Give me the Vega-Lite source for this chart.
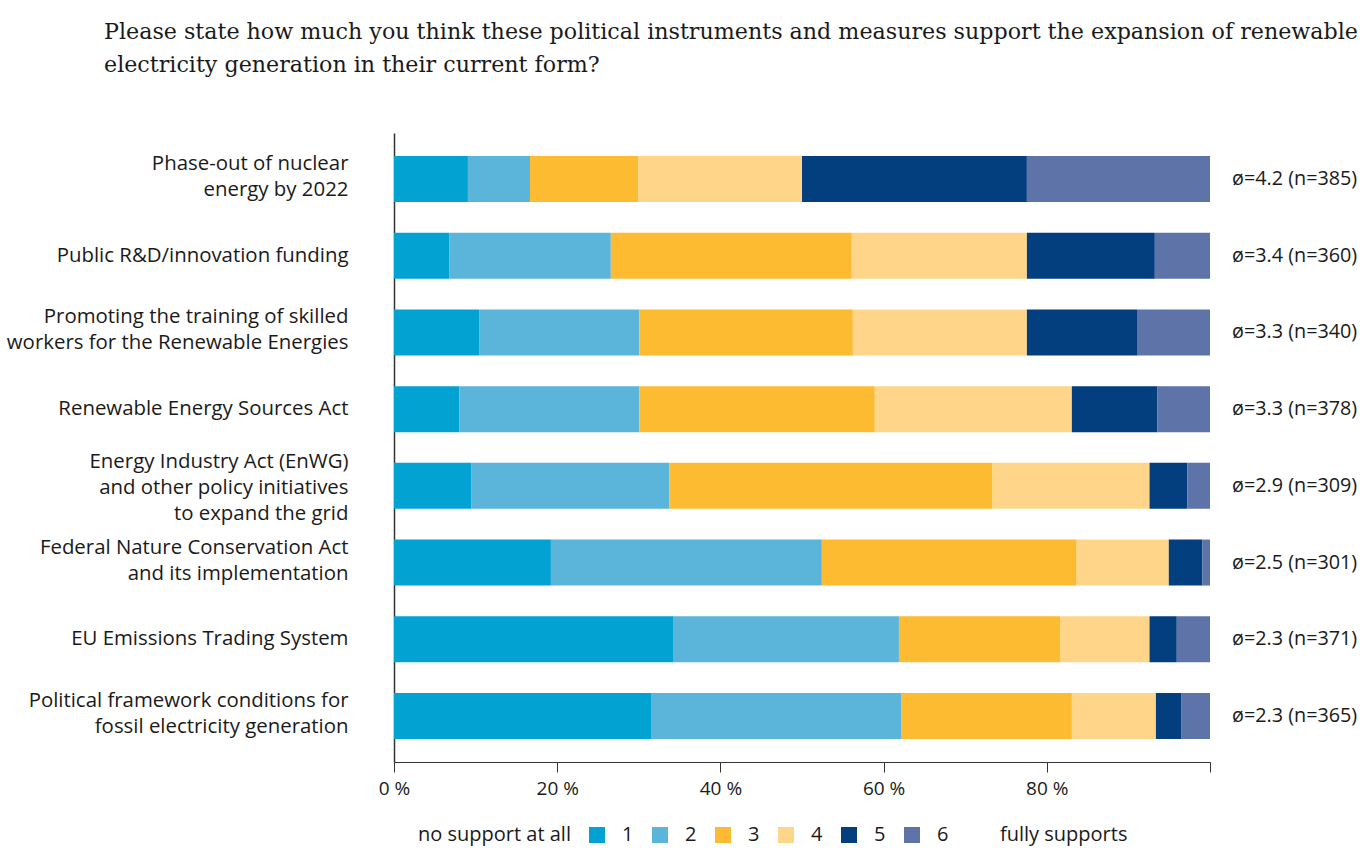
{
  "$schema": "https://vega.github.io/schema/vega-lite/v6.json",
  "width": 816,
  "height": 629,
  "autosize": "none",
  "padding": {"left": 394, "top": 133, "right": 150, "bottom": 86},
  "background": "white",
  "config": {
    "view": {"stroke": null},
    "font": "Open Sans",
    "text": {"font": "Open Sans"}
  },
  "title": {
    "text": ["Please state how much you think these political instruments and measures support the expansion of renewable", "electricity generation in their current form?"],
    "anchor": "start",
    "frame": "group",
    "dx": -290,
    "offset": 57,
    "font": "DejaVu Serif",
    "fontSize": 22.2,
    "fontWeight": "normal",
    "lineHeight": 33,
    "color": "#1a1a1a"
  },
  "datasets": {
    "bars": [
      {"item": "Phase-out of nuclear|energy by 2022", "rating": "1", "pct": 9.06},
      {"item": "Phase-out of nuclear|energy by 2022", "rating": "2", "pct": 7.61},
      {"item": "Phase-out of nuclear|energy by 2022", "rating": "3", "pct": 13.25},
      {"item": "Phase-out of nuclear|energy by 2022", "rating": "4", "pct": 20.08},
      {"item": "Phase-out of nuclear|energy by 2022", "rating": "5", "pct": 27.56},
      {"item": "Phase-out of nuclear|energy by 2022", "rating": "6", "pct": 22.44},
      {"item": "Public R&D/innovation funding", "rating": "1", "pct": 6.76},
      {"item": "Public R&D/innovation funding", "rating": "2", "pct": 19.81},
      {"item": "Public R&D/innovation funding", "rating": "3", "pct": 29.53},
      {"item": "Public R&D/innovation funding", "rating": "4", "pct": 21.46},
      {"item": "Public R&D/innovation funding", "rating": "5", "pct": 15.68},
      {"item": "Public R&D/innovation funding", "rating": "6", "pct": 6.76},
      {"item": "Promoting the training of skilled|workers for the Renewable Energies", "rating": "1", "pct": 10.43},
      {"item": "Promoting the training of skilled|workers for the Renewable Energies", "rating": "2", "pct": 19.62},
      {"item": "Promoting the training of skilled|workers for the Renewable Energies", "rating": "3", "pct": 26.18},
      {"item": "Promoting the training of skilled|workers for the Renewable Energies", "rating": "4", "pct": 21.33},
      {"item": "Promoting the training of skilled|workers for the Renewable Energies", "rating": "5", "pct": 13.58},
      {"item": "Promoting the training of skilled|workers for the Renewable Energies", "rating": "6", "pct": 8.86},
      {"item": "Renewable Energy Sources Act", "rating": "1", "pct": 8.0},
      {"item": "Renewable Energy Sources Act", "rating": "2", "pct": 22.05},
      {"item": "Renewable Energy Sources Act", "rating": "3", "pct": 28.87},
      {"item": "Renewable Energy Sources Act", "rating": "4", "pct": 24.15},
      {"item": "Renewable Energy Sources Act", "rating": "5", "pct": 10.5},
      {"item": "Renewable Energy Sources Act", "rating": "6", "pct": 6.43},
      {"item": "Energy Industry Act (EnWG)|and other policy initiatives|to expand the grid", "rating": "1", "pct": 9.45},
      {"item": "Energy Industry Act (EnWG)|and other policy initiatives|to expand the grid", "rating": "2", "pct": 24.28},
      {"item": "Energy Industry Act (EnWG)|and other policy initiatives|to expand the grid", "rating": "3", "pct": 39.63},
      {"item": "Energy Industry Act (EnWG)|and other policy initiatives|to expand the grid", "rating": "4", "pct": 19.23},
      {"item": "Energy Industry Act (EnWG)|and other policy initiatives|to expand the grid", "rating": "5", "pct": 4.65},
      {"item": "Energy Industry Act (EnWG)|and other policy initiatives|to expand the grid", "rating": "6", "pct": 2.76},
      {"item": "Federal Nature Conservation Act|and its implementation", "rating": "1", "pct": 19.23},
      {"item": "Federal Nature Conservation Act|and its implementation", "rating": "2", "pct": 33.2},
      {"item": "Federal Nature Conservation Act|and its implementation", "rating": "3", "pct": 31.23},
      {"item": "Federal Nature Conservation Act|and its implementation", "rating": "4", "pct": 11.29},
      {"item": "Federal Nature Conservation Act|and its implementation", "rating": "5", "pct": 4.13},
      {"item": "Federal Nature Conservation Act|and its implementation", "rating": "6", "pct": 0.92},
      {"item": "EU Emissions Trading System", "rating": "1", "pct": 34.19},
      {"item": "EU Emissions Trading System", "rating": "2", "pct": 27.69},
      {"item": "EU Emissions Trading System", "rating": "3", "pct": 19.81},
      {"item": "EU Emissions Trading System", "rating": "4", "pct": 10.9},
      {"item": "EU Emissions Trading System", "rating": "5", "pct": 3.34},
      {"item": "EU Emissions Trading System", "rating": "6", "pct": 4.07},
      {"item": "Political framework conditions for|fossil electricity generation", "rating": "1", "pct": 31.5},
      {"item": "Political framework conditions for|fossil electricity generation", "rating": "2", "pct": 30.64},
      {"item": "Political framework conditions for|fossil electricity generation", "rating": "3", "pct": 20.93},
      {"item": "Political framework conditions for|fossil electricity generation", "rating": "4", "pct": 10.3},
      {"item": "Political framework conditions for|fossil electricity generation", "rating": "5", "pct": 3.15},
      {"item": "Political framework conditions for|fossil electricity generation", "rating": "6", "pct": 3.48}
    ],
    "notes": [
      {"item": "Phase-out of nuclear|energy by 2022", "note": "ø=4.2 (n=385)"},
      {"item": "Public R&D/innovation funding", "note": "ø=3.4 (n=360)"},
      {"item": "Promoting the training of skilled|workers for the Renewable Energies", "note": "ø=3.3 (n=340)"},
      {"item": "Renewable Energy Sources Act", "note": "ø=3.3 (n=378)"},
      {"item": "Energy Industry Act (EnWG)|and other policy initiatives|to expand the grid", "note": "ø=2.9 (n=309)"},
      {"item": "Federal Nature Conservation Act|and its implementation", "note": "ø=2.5 (n=301)"},
      {"item": "EU Emissions Trading System", "note": "ø=2.3 (n=371)"},
      {"item": "Political framework conditions for|fossil electricity generation", "note": "ø=2.3 (n=365)"}
    ]
  },
  "encoding": {
    "y": {
      "field": "item",
      "type": "nominal",
      "sort": null,
      "scale": {"paddingInner": 0.4, "paddingOuter": 0.3},
      "axis": {
        "title": null,
        "ticks": false,
        "domain": true,
        "domainColor": "#333333",
        "domainWidth": 1.5,
        "labelPadding": 46,
        "labelFont": "Open Sans",
        "labelFontSize": 20.4,
        "labelLineHeight": 26,
        "labelColor": "#1a1a1a",
        "labelLimit": 400,
        "labelOffset": {
          "condition": [
            {"test": "length(split(datum.value, '|')) == 3", "value": -24},
            {"test": "length(split(datum.value, '|')) == 2", "value": -15}
          ],
          "value": 0
        },
        "labelExpr": "split(datum.label, '|')"
      }
    }
  },
  "layer": [
    {
      "data": {"name": "bars"},
      "mark": {"type": "bar"},
      "encoding": {
        "x": {
          "field": "pct",
          "type": "quantitative",
          "stack": "zero",
          "scale": {"domain": [0, 100], "nice": false},
          "axis": {
            "title": null,
            "grid": false,
            "values": [0, 20, 40, 60, 80, 100],
            "labelExpr": "datum.value == 100 ? '' : datum.value + ' %'",
            "labelFlush": false,
            "tickSize": 10,
            "tickColor": "#333333",
            "domainColor": "#333333",
            "labelFont": "Open Sans",
            "labelFontSize": 19,
            "labelColor": "#1a1a1a",
            "labelPadding": 7
          }
        },
        "color": {
          "field": "rating",
          "type": "nominal",
          "scale": {
            "domain": ["1", "2", "3", "4", "5", "6", "fully supports"],
            "range": ["#02A3D2", "#5BB4DA", "#FCBB30", "#FED589", "#033F7F", "#5E74A8", "#FFFFFF"]
          },
          "legend": {
            "orient": "none",
            "legendX": 24,
            "legendY": 692,
            "direction": "horizontal",
            "title": "no support at all",
            "titleOrient": "left",
            "titleAngle": 0,
            "titleBaseline": "middle",
            "titleFontWeight": "normal",
            "titleFontSize": 20,
            "titleFont": "Open Sans",
            "titleColor": "#1a1a1a",
            "titlePadding": 16,
            "symbolType": "square",
            "symbolSize": 256,
            "symbolStrokeWidth": 0,
            "labelFont": "Open Sans",
            "labelFontSize": 20,
            "labelColor": "#1a1a1a",
            "labelOffset": 15,
            "columnPadding": 16
          }
        }
      }
    },
    {
      "data": {"name": "notes"},
      "mark": {"type": "text", "align": "left", "baseline": "middle", "dx": 22, "font": "Open Sans", "fontSize": 19.8, "color": "#1a1a1a"},
      "encoding": {
        "x": {"datum": 100, "type": "quantitative"},
        "text": {"field": "note"}
      }
    }
  ]
}
